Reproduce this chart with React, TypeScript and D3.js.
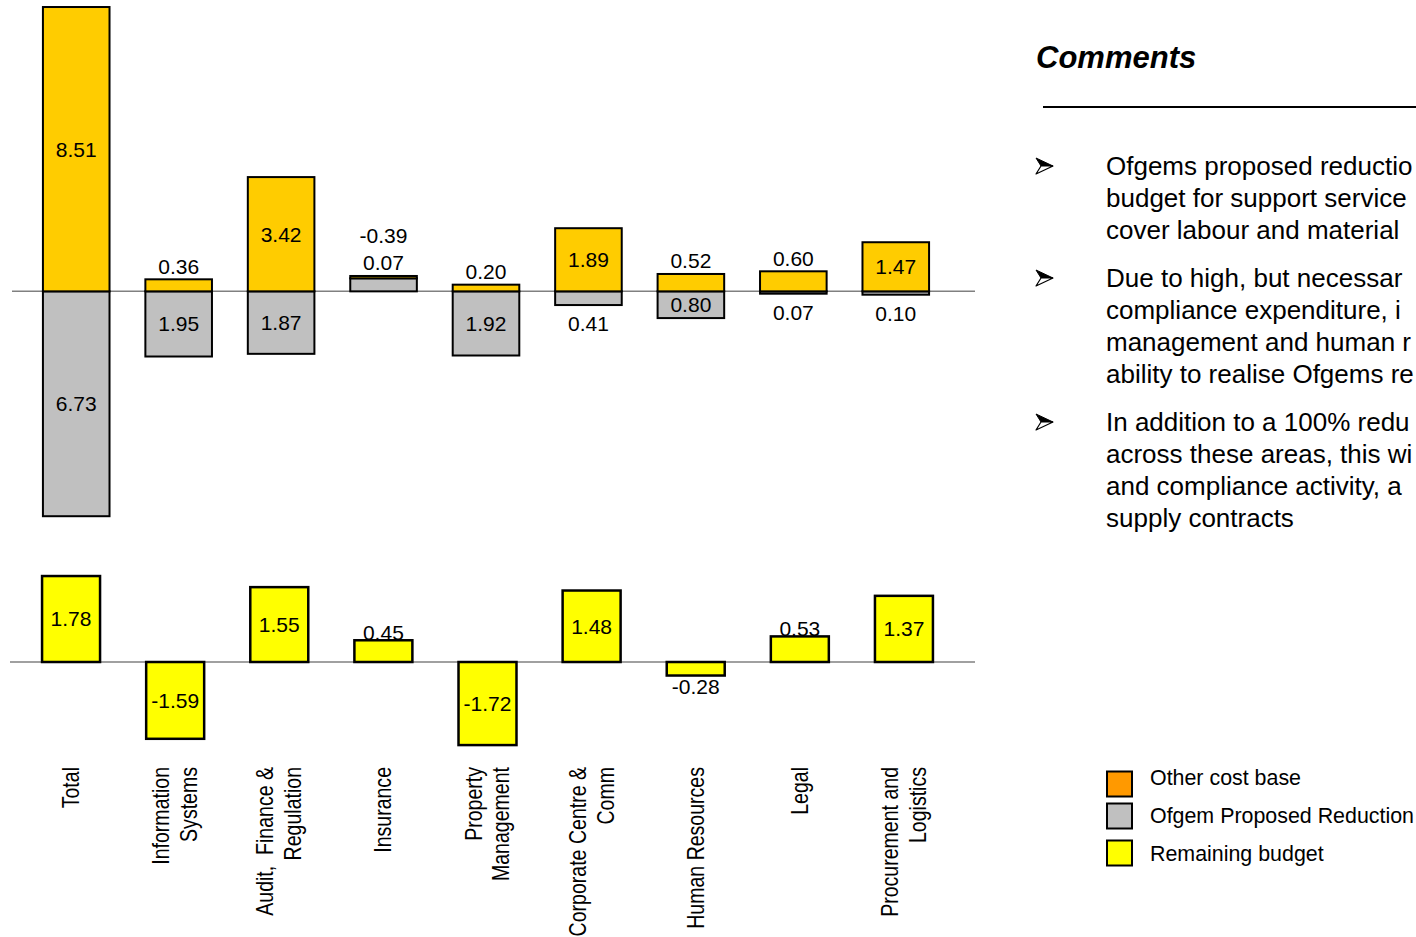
import React, { useEffect } from "react";
import * as d3 from "d3";

const categories: string[][] = [
  ["Total"],
  ["Information", "Systems"],
  ["Audit,\u00a0 Finance &", "Regulation"],
  ["Insurance"],
  ["Property", "Management"],
  ["Corporate Centre &", "Comm"],
  ["Human Resources"],
  ["Legal"],
  ["Procurement and", "Logistics"],
];
const otherCostBase = [8.51, 0.36, 3.42, 0.07, 0.2, 1.89, 0.52, 0.6, 1.47];
const proposedReduction = [6.73, 1.95, 1.87, -0.39, 1.92, 0.41, 0.8, 0.07, 0.1];
const remainingBudget = [1.78, -1.59, 1.55, 0.45, -1.72, 1.48, -0.28, 0.53, 1.37];

const legendItems = [
  { label: "Other cost base", color: "#FF9900" },
  { label: "Ofgem Proposed Reduction", color: "#C0C0C0" },
  { label: "Remaining budget", color: "#FFFF00" },
];

const commentParagraphs: string[][] = [
  ["Ofgems proposed reductio", "budget for support service", "cover labour and material"],
  ["Due to high, but necessar", "compliance expenditure, i", "management and human r", "ability to realise Ofgems re"],
  ["In addition to a 100% redu", "across these areas, this wi", "and compliance activity, a", "supply contracts"],
];

const FONT = "'Liberation Sans', Arial, Helvetica, sans-serif";
const ORANGE = "#FFCC00";
const GRAY = "#C0C0C0";
const YELLOW = "#FFFF00";
const fmt = (v: number) => v.toFixed(2);

export default function App() {
  useEffect(() => {
    document.body.style.margin = "0";
    document.body.style.overflow = "hidden";
  }, []);

  const idx = categories.map((_, i) => i);
  const xTop = d3.scaleBand<number>().domain(idx).range([25, 947]).paddingInner(0.35).paddingOuter(0.175);
  const yTop = d3.scaleLinear().domain([-8.25, 8.72]).range([567, 0]);
  const xBot = d3.scaleBand<number>().domain(idx).range([19, 956]).paddingInner(0.443).paddingOuter(0.2215);
  const yBot = d3.scaleLinear().domain([-2.443, 2.112]).range([780, 560]);

  const rows = idx.map((i) => ({ i, gray: -proposedReduction[i], other: otherCostBase[i] }));
  const stacked = d3.stack<any>().keys(["gray", "other"]).offset(d3.stackOffsetDiverging)(rows);
  const graySeries = stacked[0];
  const otherSeries = stacked[1];

  const labelStyle = { fontFamily: FONT, fontSize: 21, fill: "#000" } as const;

  return (
    <div style={{ position: "absolute", left: 0, top: 0, width: 1416, height: 937, overflow: "hidden" }}>
      <svg width={1416} height={937} style={{ display: "block", background: "#fff" }}>
        {/* Top panel */}
        <line x1={12} x2={975} y1={yTop(0)} y2={yTop(0)} stroke="#808080" strokeWidth={1.5} />
        {graySeries.map((d, i) => {
          const y0 = yTop(Math.max(d[0], d[1]));
          const y1 = yTop(Math.min(d[0], d[1]));
          return (
            <rect key={"g" + i} x={xTop(i)} width={xTop.bandwidth()} y={y0} height={y1 - y0}
              fill={GRAY} stroke="#000" strokeWidth={2} />
          );
        })}
        {otherSeries.map((d, i) => {
          const y0 = yTop(Math.max(d[0], d[1]));
          const y1 = yTop(Math.min(d[0], d[1]));
          return (
            <rect key={"o" + i} x={xTop(i)} width={xTop.bandwidth()} y={y0} height={y1 - y0}
              fill={ORANGE} stroke="#000" strokeWidth={2} />
          );
        })}
        {idx.map((i) => {
          const cx = xTop(i)! + xTop.bandwidth() / 2;
          const o = otherSeries[i];
          const g = graySeries[i];
          const stackTop = Math.max(o[1], g[1], 0);
          const oVal = otherCostBase[i];
          const rVal = proposedReduction[i];
          const oy = oVal >= 1 ? yTop((o[0] + o[1]) / 2) : yTop(stackTop) - 13;
          let gy: number;
          if (rVal >= 0.7) gy = yTop((g[0] + g[1]) / 2);
          else if (rVal >= 0) gy = yTop(Math.min(g[0], g[1])) + 19;
          else gy = yTop(stackTop) - 40;
          return (
            <g key={"lt" + i}>
              <text x={cx} y={oy} dy="0.35em" textAnchor="middle" {...labelStyle}>{fmt(oVal)}</text>
              <text x={cx} y={gy} dy="0.35em" textAnchor="middle" {...labelStyle}>{fmt(rVal)}</text>
            </g>
          );
        })}

        {/* Bottom panel */}
        <line x1={10} x2={975} y1={yBot(0)} y2={yBot(0)} stroke="#808080" strokeWidth={1.5} />
        {remainingBudget.map((v, i) => {
          const y0 = yBot(Math.max(0, v));
          const y1 = yBot(Math.min(0, v));
          return (
            <rect key={"r" + i} x={xBot(i)} width={xBot.bandwidth()} y={y0} height={y1 - y0}
              fill={YELLOW} stroke="#000" strokeWidth={2.5} />
          );
        })}
        {remainingBudget.map((v, i) => {
          const cx = xBot(i)! + xBot.bandwidth() / 2;
          let ly: number;
          if (Math.abs(v) >= 0.6) ly = yBot(v / 2);
          else if (v >= 0) ly = yBot(v) - 8;
          else ly = yBot(v) + 11;
          return (
            <text key={"lb" + i} x={cx} y={ly} dy="0.35em" textAnchor="middle" {...labelStyle}>{fmt(v)}</text>
          );
        })}

        {/* Category labels */}
        {categories.map((lines, i) => {
          const cx = xBot(i)! + xBot.bandwidth() / 2;
          const n = lines.length;
          return (
            <text key={"c" + i} transform={`translate(${cx},767) rotate(-90) scale(0.85,1)`}
              textAnchor="end" fontFamily={FONT} fontSize={23} fill="#000">
              {lines.map((t, j) => (
                <tspan key={j} x={0} y={(j - (n - 1) / 2) * 28 + 8}>{t}</tspan>
              ))}
            </text>
          );
        })}

        {/* Comments */}
        <text x={1036} y={68} fontFamily={FONT} fontSize={31} fontWeight="bold" fontStyle="italic" fill="#000">Comments</text>
        <line x1={1043} x2={1416} y1={107} y2={107} stroke="#000" strokeWidth={2} />
        {commentParagraphs.map((lines, p) => {
          const top = [166, 278, 422][p];
          return (
            <g key={"p" + p}>
              <g transform={`translate(1036,${top})`}>
                <path d="M0,-8 L17,0 L5,0 Z" fill="#000" stroke="#000" strokeWidth={1} strokeLinejoin="round" />
                <path d="M5,0 L17,0 L0,8 Z" fill="#fff" stroke="#000" strokeWidth={1.2} strokeLinejoin="round" />
              </g>
              {lines.map((t, j) => (
                <text key={j} x={1106} y={top + 9 + j * 32} fontFamily={FONT} fontSize={26} fill="#000">{t}</text>
              ))}
            </g>
          );
        })}

        {/* Legend */}
        {legendItems.map((it, i) => {
          const cy = [784, 816, 853][i];
          return (
            <g key={"lg" + i}>
              <rect x={1107} y={cy - 12.5} width={25} height={25} fill={it.color} stroke="#000" strokeWidth={2} />
              <text x={1150} y={778 + 38 * i} dy="0.35em" fontFamily={FONT} fontSize={21.4} fill="#000">{it.label}</text>
            </g>
          );
        })}
      </svg>
    </div>
  );
}
